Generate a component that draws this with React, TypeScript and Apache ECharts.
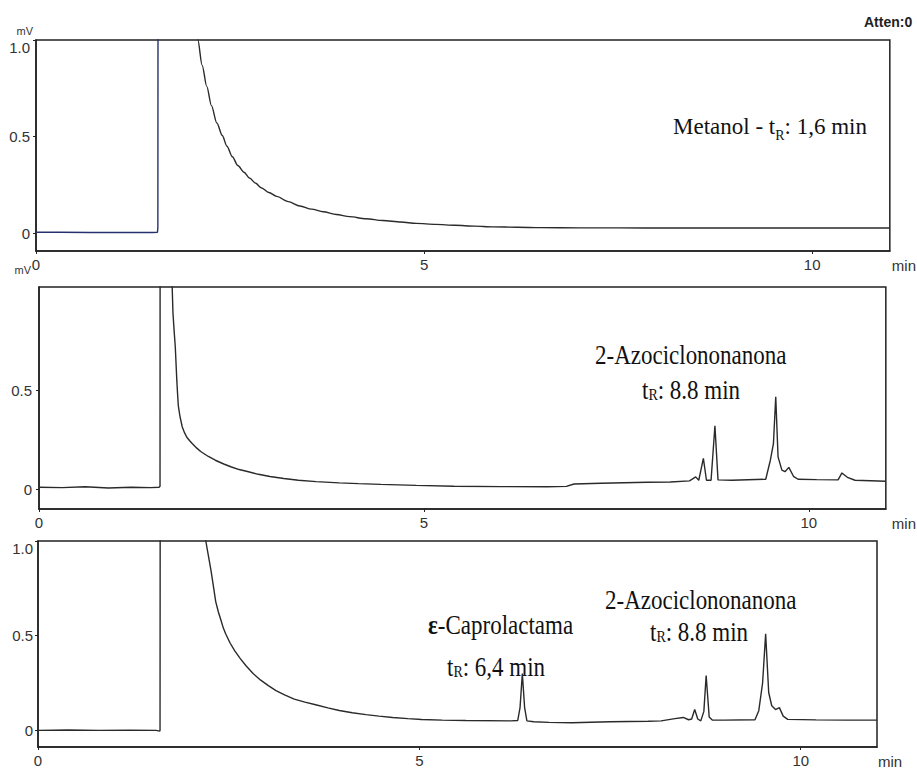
import React, { useEffect, useRef } from "react";
import * as echarts from "echarts";

// ---------------- data ----------------
const xTickValues = [0, 5, 10];
const xAxisName = "min";
const yAxisName = "mV";
const yTicksTop = [0, 0.5, 1.0];
const yTicksMiddle = [0, 0.5];
const yTicksBottom = [0, 0.5, 1.0];

// Panel 1 – Metanol (values above the axis max are off-scale and get clipped)
const metanolBaseTime = [0, 0.3, 0.7, 1.1, 1.5, 1.565, 1.57, 1.575];
const metanolBaseSignal = [0.004, 0.004, 0.003, 0.003, 0.003, 0.004, 0.03, 3.0];
const metanolTailTime = [2.06, 2.085, 2.14, 2.2, 2.26, 2.33, 2.4, 2.46, 2.53, 2.6, 2.68, 2.75, 2.83, 2.9, 3.0, 3.1, 3.25, 3.4, 3.55, 3.7, 3.87, 4.04, 4.25, 4.47, 4.7, 4.9, 5.15, 5.4, 5.65, 5.88, 6.2, 6.5, 7.0, 7.5, 8.2, 9.0, 10.0, 11.0];
const metanolTailSignal = [1.3, 1.0, 0.87, 0.76, 0.66, 0.57, 0.505, 0.45, 0.395, 0.35, 0.315, 0.285, 0.258, 0.235, 0.21, 0.19, 0.163, 0.14, 0.124, 0.11, 0.096, 0.085, 0.074, 0.065, 0.057, 0.05, 0.045, 0.04, 0.036, 0.032, 0.03, 0.028, 0.027, 0.027, 0.026, 0.026, 0.026, 0.026];

// Panel 2 – 2-Azociclononanona
const azoTime = [
  0, 0.3, 0.6, 0.9, 1.2, 1.45, 1.56, 1.572, 1.575, 1.72,
  1.73, 1.74, 1.755, 1.77, 1.78, 1.79, 1.8, 1.81, 1.83, 1.86,
  1.89, 1.92, 1.96, 1.99, 2.05, 2.1, 2.2, 2.29, 2.4, 2.5,
  2.6, 2.72, 2.85, 3.0, 3.18, 3.37, 3.6, 3.9, 4.15, 4.44,
  4.9, 5.39, 6.0, 6.6, 6.85, 6.95, 7.3, 7.9, 8.2, 8.45,
  8.53, 8.57, 8.63, 8.67, 8.73, 8.78, 8.82, 9.0, 9.44, 9.5,
  9.54, 9.57, 9.6, 9.65, 9.69, 9.74, 9.8, 9.86, 10.1, 10.38,
  10.43, 10.5, 10.6, 11.0,
];
const azoSignal = [
  0.01, 0.008, 0.012, 0.006, 0.01, 0.008, 0.01, 0.015, 3.0, 3.0,
  1.02, 0.89, 0.8, 0.72, 0.635, 0.55, 0.48, 0.42, 0.37, 0.315,
  0.285, 0.262, 0.243, 0.23, 0.207, 0.19, 0.165, 0.146, 0.127, 0.112,
  0.099, 0.088, 0.075, 0.064, 0.054, 0.045, 0.038, 0.032, 0.028, 0.024,
  0.019, 0.015, 0.013, 0.012, 0.014, 0.026, 0.03, 0.035, 0.036, 0.042,
  0.062, 0.045, 0.155, 0.045, 0.045, 0.32, 0.047, 0.045, 0.05, 0.146,
  0.23, 0.466, 0.163, 0.096, 0.088, 0.11, 0.065, 0.05, 0.048, 0.047,
  0.082, 0.06, 0.045, 0.04,
];

// Panel 3 – ε-Caprolactama + 2-Azociclononanona
const mixTime = [
  0, 0.4, 0.8, 1.2, 1.55, 1.595, 1.6, 1.605, 2.18, 2.2,
  2.235, 2.27, 2.3, 2.33, 2.365, 2.4, 2.43, 2.46, 2.52, 2.58,
  2.65, 2.73, 2.82, 2.92, 3.02, 3.12, 3.24, 3.36, 3.5, 3.64,
  3.8, 3.95, 4.12, 4.3, 4.47, 4.65, 4.85, 5.03, 5.3, 5.61,
  6.2, 6.29, 6.32, 6.35, 6.38, 6.41, 6.5, 6.7, 7.0, 7.5,
  8.0, 8.17, 8.35, 8.46, 8.53, 8.57, 8.61, 8.65, 8.69, 8.73,
  8.76, 8.8, 8.84, 9.0, 9.4, 9.45, 9.5, 9.54, 9.58, 9.62,
  9.67, 9.72, 9.77, 9.83, 10.2, 10.6, 11.0,
];
const mixSignal = [
  0.0, 0.002, 0.0, 0.001, 0.0, -0.004, 0.0, 3.0, 3.0, 1.0,
  0.92, 0.84, 0.76, 0.68, 0.625, 0.58, 0.54, 0.51, 0.46, 0.42,
  0.38, 0.34, 0.3, 0.265, 0.236, 0.21, 0.186, 0.165, 0.149, 0.135,
  0.119, 0.105, 0.093, 0.083, 0.075, 0.068, 0.062, 0.057, 0.054, 0.052,
  0.05, 0.052, 0.12, 0.3, 0.12, 0.05, 0.045, 0.042, 0.04, 0.045,
  0.048, 0.05, 0.062, 0.068, 0.056, 0.06, 0.11, 0.06, 0.05, 0.1,
  0.29, 0.07, 0.054, 0.054, 0.056, 0.104, 0.25, 0.51, 0.2, 0.13,
  0.11, 0.12, 0.075, 0.058, 0.055, 0.054, 0.054,
];

// ---------------- styles ----------------
const axisFont = "'Liberation Sans Narrow', 'Arial Narrow', 'Liberation Sans', Arial, sans-serif";
const serif = "'Liberation Serif', 'Times New Roman', serif";
const frameColor = "#222";
const labelColor = "#333";
const traceColor = "#2a2a2a";
const injectColor = "#26306e";

const zip = (t: number[], s: number[]) => t.map((x, i) => [x, s[i]]);

const yLabelFormatter = (v: number) => {
  if (v === 0) return "0";
  const s = v.toFixed(1);
  return v >= 1 ? `{top|${s}}` : s;
};

function makeX(gridIndex: number, nameGap: number) {
  return {
    type: "value",
    gridIndex,
    min: 0,
    max: 11,
    splitLine: { show: false },
    axisLine: { show: true, onZero: false, lineStyle: { color: frameColor, width: 1.5 } },
    axisTick: { show: true, length: 3, customValues: xTickValues, lineStyle: { color: frameColor } },
    axisLabel: {
      customValues: xTickValues,
      margin: 6,
      fontSize: 15,
      fontFamily: axisFont,
      color: labelColor,
    },
    name: xAxisName,
    nameLocation: "end",
    nameGap,
    nameTextStyle: {
      fontSize: 15,
      fontFamily: axisFont,
      color: labelColor,
      verticalAlign: "top",
      padding: [7, 0, 0, 0],
    },
  };
}

function makeY(
  gridIndex: number,
  min: number,
  max: number,
  ticks: number[],
  labelMargin: number,
  name: string,
  nameGap: number,
  namePadRight: number
) {
  return {
    type: "value",
    gridIndex,
    min,
    max,
    splitLine: { show: false },
    axisLine: { show: true, onZero: false, lineStyle: { color: frameColor, width: 1.5 } },
    axisTick: { show: true, length: 3, customValues: ticks, lineStyle: { color: frameColor } },
    axisLabel: {
      customValues: ticks,
      margin: labelMargin,
      fontSize: 15,
      fontFamily: axisFont,
      color: labelColor,
      formatter: yLabelFormatter,
      rich: {
        top: { padding: [14, 0, 0, 0], fontSize: 15, fontFamily: axisFont, color: labelColor },
      },
    },
    name,
    nameLocation: "end",
    nameGap,
    nameTextStyle: {
      fontSize: 11,
      fontFamily: "'Liberation Sans', Arial, sans-serif",
      color: labelColor,
      align: "right",
      verticalAlign: "middle",
      padding: [0, namePadRight, 0, 0],
    },
  };
}

function note(x: number, y: number, text: string, scaleY: number, subPad: number) {
  return {
    type: "text",
    x,
    y,
    scaleY,
    silent: true,
    style: {
      text,
      x: 0,
      y: 0,
      align: "left",
      verticalAlign: "middle",
      textAlign: "left",
      textVerticalAlign: "middle",
      fill: "#111",
      rich: {
        m: { fontSize: 23, fontFamily: serif, fill: "#111", color: "#111", verticalAlign: "middle" },
        b: { fontSize: 23, fontFamily: serif, fontWeight: "bold", fill: "#111", color: "#111", verticalAlign: "middle" },
        s: { fontSize: 14, fontFamily: serif, fill: "#111", color: "#111", verticalAlign: "middle", padding: [subPad, 0, 0, 0] },
      },
    },
  };
}

const lineSeries = (name: string, idx: number, data: number[][], color: string, smooth: number | boolean) => ({
  name,
  type: "line",
  xAxisIndex: idx,
  yAxisIndex: idx,
  data,
  showSymbol: false,
  symbol: "none",
  smooth,
  smoothMonotone: "x",
  clip: true,
  silent: true,
  lineStyle: { color, width: 1.4 },
});

export default function App() {
  const ref = useRef<HTMLDivElement>(null);

  useEffect(() => {
    document.body.style.margin = "0";
    if (!ref.current) return;
    const chart = echarts.init(ref.current, undefined, { renderer: "svg" });

    const option = {
      animation: false,
      backgroundColor: "#ffffff",
      grid: [
        { left: 36, top: 40, width: 855, height: 211, show: true, borderColor: frameColor, borderWidth: 1.5, containLabel: false },
        { left: 39, top: 287, width: 852, height: 222, show: true, borderColor: frameColor, borderWidth: 1.5, containLabel: false },
        { left: 38, top: 541, width: 839, height: 209, show: true, borderColor: frameColor, borderWidth: 1.5, containLabel: false },
      ],
      xAxis: [makeX(0, 2), makeX(1, 6), makeX(2, 1)],
      yAxis: [
        makeY(0, -0.093, 1.0, yTicksTop, 6, yAxisName, 9, 3),
        makeY(1, -0.1, 1.02, yTicksMiddle, 7, yAxisName, 17, 8),
        makeY(2, -0.088, 1.0, yTicksBottom, 5, "", 0, 0),
      ],
      series: [
        lineSeries("Metanol (inyección)", 0, zip(metanolBaseTime, metanolBaseSignal), injectColor, false),
        lineSeries("Metanol", 0, zip(metanolTailTime, metanolTailSignal), traceColor, 0.3),
        lineSeries("2-Azociclononanona", 1, zip(azoTime, azoSignal), traceColor, false),
        lineSeries("Mezcla", 2, zip(mixTime, mixSignal), traceColor, false),
      ],
      graphic: [
        {
          type: "text",
          x: 864,
          y: 22,
          silent: true,
          style: {
            text: "Atten:0",
            x: 0,
            y: 0,
            fill: "#222",
            font: "bold 14px 'Liberation Sans', Arial, sans-serif",
            verticalAlign: "middle",
            textVerticalAlign: "middle",
          },
        },
        note(673, 126, "{m|Metanol - t}{s|R}{m|: 1,6 min}", 1.0, 19),
        note(595, 354, "{m|2-Azociclononanona}", 1.2, 8),
        note(642, 389, "{m|t}{s|R}{m|: 8.8 min}", 1.2, 8),
        note(428, 624, "{b|ε}{m|-Caprolactama}", 1.2, 8),
        note(447, 666, "{m|t}{s|R}{m|: 6,4 min}", 1.2, 8),
        note(605, 599, "{m|2-Azociclononanona}", 1.2, 8),
        note(650, 631, "{m|t}{s|R}{m|: 8.8 min}", 1.2, 8),
      ],
    };

    chart.setOption(option as any);
    return () => chart.dispose();
  }, []);

  return <div ref={ref} style={{ width: 917, height: 769 }} />;
}
